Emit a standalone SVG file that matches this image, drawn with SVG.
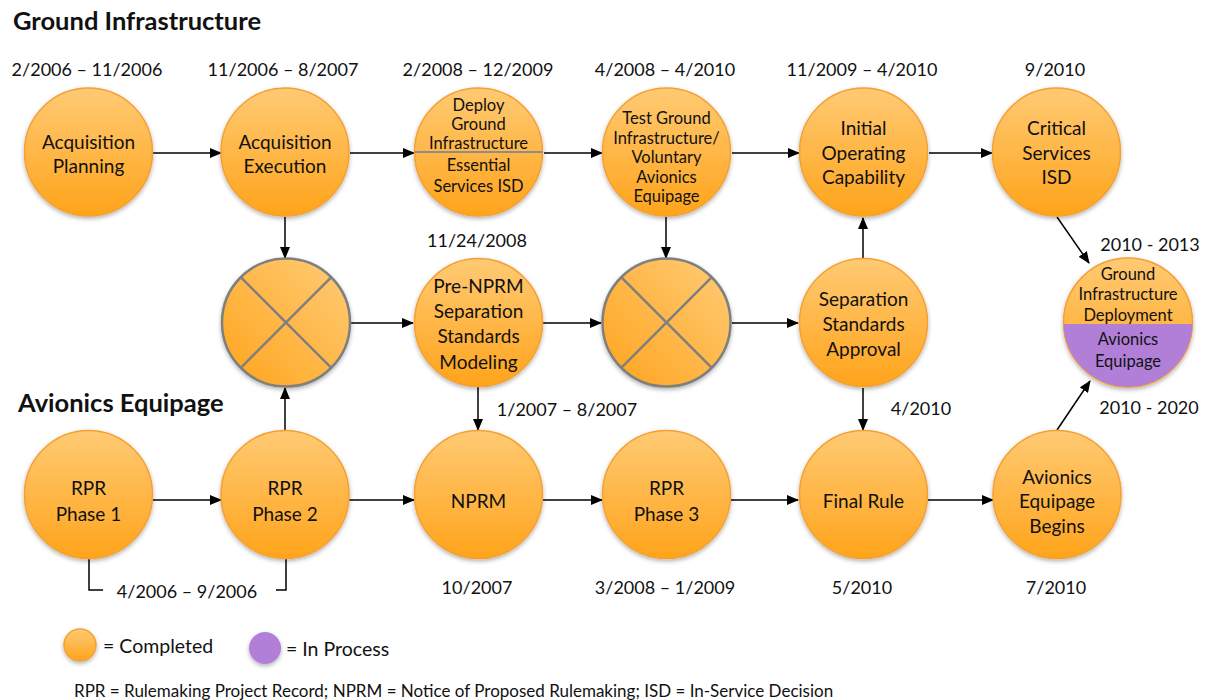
<svg xmlns="http://www.w3.org/2000/svg" width="1213" height="700" viewBox="0 0 1213 700">
<defs>
<linearGradient id="og" x1="0" y1="0" x2="0" y2="1">
<stop offset="0" stop-color="#FFCA74"/><stop offset="1" stop-color="#FFA41B"/>
</linearGradient>
<linearGradient id="xg" x1="1" y1="0" x2="0" y2="1">
<stop offset="0" stop-color="#FFCC78"/><stop offset="1" stop-color="#FFA41B"/>
</linearGradient>
<filter id="sh" x="-20%" y="-20%" width="140%" height="150%">
<feDropShadow dx="0" dy="2" stdDeviation="2" flood-color="#000" flood-opacity="0.3"/>
</filter>
<marker id="ah" markerWidth="12" markerHeight="10" refX="11" refY="5" orient="auto" markerUnits="userSpaceOnUse">
<path d="M0,0 L12,5 L0,10 Z" fill="#000"/>
</marker>
<clipPath id="splitclip"><circle cx="1128" cy="322.5" r="64.5"/></clipPath>
</defs>
<style>
text{font-family:Lato,"Liberation Sans",sans-serif;fill:#111;}
.n{fill:url(#og);stroke:#F5A032;stroke-width:1.5;filter:url(#sh);}
.x{fill:url(#xg);stroke:#7F7F7F;stroke-width:2.5;filter:url(#sh);}
.xl{stroke:#7F7F7F;stroke-width:2.5;}
.t{font-size:19px;text-anchor:middle;dominant-baseline:central;}
.s{font-size:16.5px;text-anchor:middle;dominant-baseline:central;}
.d{font-size:18px;text-anchor:middle;dominant-baseline:central;}
.h{font-size:25.5px;font-weight:bold;dominant-baseline:central;}
.c{stroke:#000;stroke-width:1.5;fill:none;marker-end:url(#ah);}
.b{stroke:#000;stroke-width:1.5;fill:none;}
</style>

<text class="h" x="13" y="20">Ground Infrastructure</text>
<text class="h" x="18" y="402">Avionics Equipage</text>

<g id="dates">
<text class="d" x="87" y="69">2/2006 – 11/2006</text>
<text class="d" x="283" y="69">11/2006 – 8/2007</text>
<text class="d" x="478" y="69">2/2008 – 12/2009</text>
<text class="d" x="665" y="69">4/2008 – 4/2010</text>
<text class="d" x="862" y="69">11/2009 – 4/2010</text>
<text class="d" x="1055" y="69">9/2010</text>
<text class="d" x="477" y="240">11/24/2008</text>
<text class="d" x="567" y="409">1/2007 – 8/2007</text>
<text class="d" x="921" y="408">4/2010</text>
<text class="d" x="1150" y="244">2010 - 2013</text>
<text class="d" x="1149" y="407">2010 - 2020</text>
<text class="d" x="187" y="591">4/2006 – 9/2006</text>
<text class="d" x="477" y="587">10/2007</text>
<text class="d" x="665" y="587">3/2008 – 1/2009</text>
<text class="d" x="862" y="587">5/2010</text>
<text class="d" x="1056" y="587">7/2010</text>
</g>

<g id="connectors">
<line class="c" x1="153" y1="153" x2="221" y2="153"/>
<line class="c" x1="350" y1="153" x2="414" y2="153"/>
<line class="c" x1="544" y1="153" x2="602" y2="153"/>
<line class="c" x1="732" y1="153" x2="799" y2="153"/>
<line class="c" x1="929" y1="153" x2="992" y2="153"/>
<line class="c" x1="285" y1="217" x2="285" y2="258"/>
<line class="c" x1="666" y1="217" x2="666" y2="258"/>
<line class="c" x1="863" y1="258" x2="863" y2="218"/>
<line class="c" x1="863" y1="388" x2="863" y2="430"/>
<line class="c" x1="478" y1="387" x2="478" y2="430"/>
<line class="c" x1="285" y1="430" x2="285" y2="388"/>
<line class="c" x1="351" y1="323" x2="413" y2="323"/>
<line class="c" x1="543" y1="323" x2="601" y2="323"/>
<line class="c" x1="732" y1="323" x2="798" y2="323"/>
<line class="c" x1="153" y1="500" x2="221" y2="500"/>
<line class="c" x1="349" y1="500" x2="414" y2="500"/>
<line class="c" x1="543" y1="500" x2="602" y2="500"/>
<line class="c" x1="731" y1="500" x2="798" y2="500"/>
<line class="c" x1="928" y1="500" x2="993" y2="500"/>
<line class="c" x1="1057" y1="217" x2="1089" y2="263"/>
<line class="c" x1="1057" y1="430" x2="1090" y2="381"/>
<path class="b" d="M89,559 V590 H103"/>
<path class="b" d="M276,590 H286 V559"/>
</g>

<g id="acq-planning"><circle class="n" cx="88.5" cy="152" r="64"/>
<text class="t" x="88.5" y="141.5">Acquisition</text><text class="t" x="88.5" y="165">Planning</text></g>
<g id="acq-execution"><circle class="n" cx="285" cy="152" r="64"/>
<text class="t" x="285" y="141.5">Acquisition</text><text class="t" x="285" y="165">Execution</text></g>
<g id="deploy"><circle class="n" cx="478.5" cy="152" r="64"/>
<line x1="414.5" y1="152" x2="542.5" y2="152" stroke="#8C8C8C" stroke-width="2"/>
<text class="s" x="478.5" y="105">Deploy</text><text class="s" x="478.5" y="124">Ground</text><text class="s" x="478.5" y="143">Infrastructure</text><text class="s" x="478.5" y="165">Essential</text><text class="s" x="478.5" y="186">Services ISD</text></g>
<g id="test-ground"><circle class="n" cx="666.5" cy="152" r="64"/>
<text class="s" x="666.5" y="118">Test Ground</text><text class="s" x="666.5" y="137.5">Infrastructure/</text><text class="s" x="666.5" y="157">Voluntary</text><text class="s" x="666.5" y="176.5">Avionics</text><text class="s" x="666.5" y="196">Equipage</text></g>
<g id="ioc"><circle class="n" cx="863.5" cy="152" r="64"/>
<text class="t" x="863.5" y="127.5">Initial</text><text class="t" x="863.5" y="152">Operating</text><text class="t" x="863.5" y="176.5">Capability</text></g>
<g id="critical"><circle class="n" cx="1056.5" cy="152" r="64"/>
<text class="t" x="1056.5" y="127.5">Critical</text><text class="t" x="1056.5" y="152">Services</text><text class="t" x="1056.5" y="176.5">ISD</text></g>

<g id="x1"><circle class="x" cx="286" cy="322.5" r="64"/>
<line class="xl" x1="240.7" y1="277.2" x2="331.3" y2="367.8"/><line class="xl" x1="331.3" y1="277.2" x2="240.7" y2="367.8"/></g>
<g id="pre-nprm"><circle class="n" cx="478.5" cy="322.5" r="64"/>
<text class="t" x="478.5" y="285.5">Pre-NPRM</text><text class="t" x="478.5" y="310.5">Separation</text><text class="t" x="478.5" y="335.5">Standards</text><text class="t" x="478.5" y="361">Modeling</text></g>
<g id="x2"><circle class="x" cx="666.5" cy="322.5" r="64"/>
<line class="xl" x1="621.2" y1="277.2" x2="711.8" y2="367.8"/><line class="xl" x1="711.8" y1="277.2" x2="621.2" y2="367.8"/></g>
<g id="sep-approval"><circle class="n" cx="863.5" cy="322.5" r="64"/>
<text class="t" x="863.5" y="298">Separation</text><text class="t" x="863.5" y="323.5">Standards</text><text class="t" x="863.5" y="348">Approval</text></g>
<g id="deployment-equipage"><circle class="n" cx="1128" cy="322.5" r="64.5"/>
<rect x="1060" y="324" width="140" height="70" fill="#B27FD8" clip-path="url(#splitclip)"/>
<text class="s" x="1128" y="274">Ground</text><text class="s" x="1128" y="294">Infrastructure</text><text class="s" x="1128" y="314.5">Deployment</text><text class="s" x="1128" y="339">Avionics</text><text class="s" x="1128" y="361">Equipage</text></g>

<g id="rpr1"><circle class="n" cx="88.5" cy="494.5" r="64"/>
<text class="t" x="88.5" y="487">RPR</text><text class="t" x="88.5" y="513">Phase 1</text></g>
<g id="rpr2"><circle class="n" cx="285" cy="494.5" r="64"/>
<text class="t" x="285" y="487">RPR</text><text class="t" x="285" y="513">Phase 2</text></g>
<g id="nprm"><circle class="n" cx="478.5" cy="494.5" r="64"/>
<text class="t" x="478.5" y="500">NPRM</text></g>
<g id="rpr3"><circle class="n" cx="666.5" cy="494.5" r="64"/>
<text class="t" x="666.5" y="487">RPR</text><text class="t" x="666.5" y="513">Phase 3</text></g>
<g id="final-rule"><circle class="n" cx="863.5" cy="494.5" r="64"/>
<text class="t" x="863.5" y="500">Final Rule</text></g>
<g id="avionics-begins"><circle class="n" cx="1057" cy="494.5" r="64"/>
<text class="t" x="1057" y="476">Avionics</text><text class="t" x="1057" y="500.5">Equipage</text><text class="t" x="1057" y="525">Begins</text></g>

<g id="legend">
<circle class="n" cx="80" cy="645" r="16"/>
<text x="103" y="645" style="font-size:19.5px;dominant-baseline:central">= Completed</text>
<circle cx="265" cy="648" r="16" fill="#B27FD8" filter="url(#sh)"/>
<text x="286" y="648" style="font-size:19.5px;dominant-baseline:central">= In Process</text>
<text x="74" y="690" style="font-size:17px;dominant-baseline:central">RPR =  Rulemaking Project Record; NPRM = Notice of Proposed Rulemaking; ISD = In-Service Decision</text>
</g>
</svg>
